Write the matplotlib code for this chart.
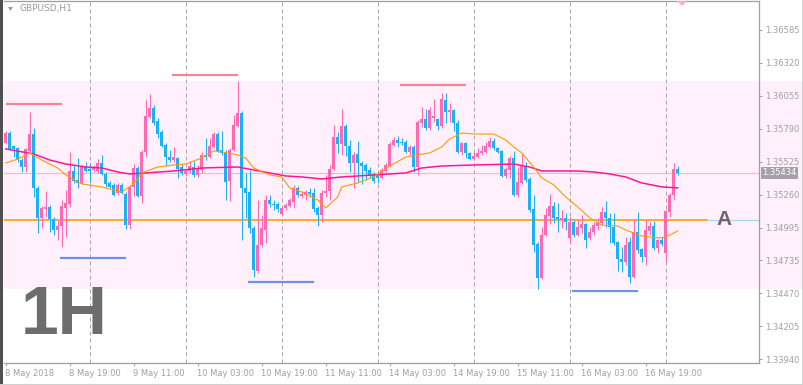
import numpy as np
import pandas as pd
import matplotlib
matplotlib.use("Agg")
import matplotlib.pyplot as plt
import matplotlib.transforms as mtrans
from matplotlib.patches import Rectangle, Polygon
from matplotlib.lines import Line2D

### data (GBPUSD H1, 8 May 03:00 -> 17 May 03:00)
opens = [1.35675, 1.35755, 1.35651, 1.35635, 1.35538, 1.35482, 1.35611, 1.35747, 1.35314, 1.35073,
         1.35145, 1.35161, 1.35065, 1.34976, 1.35008, 1.35153, 1.35185, 1.35450, 1.35378, 1.35354,
         1.35482, 1.35466, 1.35458, 1.35450, 1.35514, 1.35426, 1.35354, 1.35338, 1.35273, 1.35338,
         1.35265, 1.35016, 1.35322, 1.35474, 1.35249, 1.35603, 1.35884, 1.35956, 1.35852, 1.35763,
         1.35659, 1.35562, 1.35538, 1.35554, 1.35482, 1.35426, 1.35450, 1.35482, 1.35418, 1.35458,
         1.35579, 1.35562, 1.35643, 1.35747, 1.35619, 1.35603, 1.35370, 1.35619, 1.35811, 1.35916,
         1.35314, 1.35281, 1.34992, 1.34647, 1.34856, 1.34976, 1.35217, 1.35185, 1.35185, 1.35105,
         1.35153, 1.35169, 1.35201, 1.35314, 1.35249, 1.35257, 1.35281, 1.35273, 1.35153, 1.35097,
         1.35273, 1.35289, 1.35466, 1.35723, 1.35667, 1.35811, 1.35651, 1.35514, 1.35587, 1.35514,
         1.35498, 1.35458, 1.35426, 1.35418, 1.35394, 1.35450, 1.35490, 1.35659, 1.35699, 1.35683,
         1.35683, 1.35603, 1.35643, 1.35482, 1.35836, 1.35868, 1.35795, 1.35876, 1.35868, 1.35811,
         1.36020, 1.35924, 1.35940, 1.35836, 1.35603, 1.35675, 1.35595, 1.35546, 1.35562, 1.35595,
         1.35603, 1.35643, 1.35691, 1.35635, 1.35611, 1.35410, 1.35458, 1.35554, 1.35257, 1.35354,
         1.35490, 1.35386, 1.35145, 1.34864, 1.34591, 1.34936, 1.35089, 1.35169, 1.35081, 1.35057,
         1.35073, 1.34912, 1.35041, 1.34936, 1.34992, 1.35025, 1.34912, 1.34960, 1.35008, 1.35033,
         1.35121, 1.35073, 1.35000, 1.34880, 1.34743, 1.34719, 1.34880, 1.34599, 1.34960, 1.34824,
         1.34760, 1.34968, 1.35008, 1.34832, 1.34896, 1.34792, 1.35121, 1.35257, 1.35466]
highs = [1.35771, 1.35771, 1.35659, 1.35643, 1.35554, 1.35635, 1.35924, 1.35795, 1.35330, 1.35169,
         1.35289, 1.35177, 1.35081, 1.35057, 1.35217, 1.35298, 1.35603, 1.35498, 1.35554, 1.35498,
         1.35522, 1.35514, 1.35498, 1.35546, 1.35579, 1.35442, 1.35370, 1.35354, 1.35354, 1.35354,
         1.35281, 1.35338, 1.35506, 1.35490, 1.35619, 1.36020, 1.36068, 1.35980, 1.35876, 1.35779,
         1.35675, 1.35619, 1.35643, 1.35562, 1.35506, 1.35466, 1.35530, 1.35530, 1.35498, 1.35603,
         1.35715, 1.35715, 1.35763, 1.35763, 1.35771, 1.35619, 1.35635, 1.35900, 1.36173, 1.35932,
         1.35434, 1.35458, 1.35008, 1.35217, 1.35097, 1.35257, 1.35257, 1.35217, 1.35201, 1.35161,
         1.35193, 1.35233, 1.35338, 1.35330, 1.35289, 1.35298, 1.35314, 1.35314, 1.35169, 1.35298,
         1.35418, 1.35498, 1.35819, 1.35763, 1.35948, 1.35828, 1.35699, 1.35603, 1.35691, 1.35530,
         1.35514, 1.35482, 1.35442, 1.35442, 1.35474, 1.35514, 1.35683, 1.35723, 1.35731, 1.35715,
         1.35699, 1.35659, 1.35659, 1.35860, 1.35964, 1.35948, 1.35964, 1.36028, 1.35876, 1.36076,
         1.36076, 1.35996, 1.35948, 1.35860, 1.35683, 1.35683, 1.35603, 1.35603, 1.35635, 1.35659,
         1.35683, 1.35723, 1.35715, 1.35643, 1.35619, 1.35482, 1.35571, 1.35611, 1.35482, 1.35587,
         1.35522, 1.35402, 1.35257, 1.34880, 1.35000, 1.35153, 1.35265, 1.35201, 1.35193, 1.35137,
         1.35113, 1.35081, 1.35057, 1.35057, 1.35097, 1.35033, 1.35000, 1.35041, 1.35073, 1.35161,
         1.35209, 1.35113, 1.35113, 1.34888, 1.34840, 1.34920, 1.34920, 1.35065, 1.35121, 1.34832,
         1.35057, 1.35041, 1.35049, 1.34904, 1.34920, 1.35137, 1.35273, 1.35514, 1.35490]
lows = [1.35667, 1.35619, 1.35562, 1.35522, 1.35442, 1.35442, 1.35603, 1.35241, 1.34952, 1.34992,
        1.35081, 1.34960, 1.34936, 1.34896, 1.34840, 1.34920, 1.35161, 1.35354, 1.35314, 1.35346,
        1.35442, 1.35354, 1.35442, 1.35434, 1.35418, 1.35322, 1.35314, 1.35249, 1.35257, 1.35265,
        1.34984, 1.34984, 1.35249, 1.35241, 1.35193, 1.35562, 1.35876, 1.35819, 1.35715, 1.35643,
        1.35490, 1.35522, 1.35522, 1.35394, 1.35418, 1.35410, 1.35434, 1.35402, 1.35402, 1.35434,
        1.35538, 1.35554, 1.35635, 1.35603, 1.35579, 1.35217, 1.35209, 1.35611, 1.35803, 1.34896,
        1.35073, 1.34952, 1.34599, 1.34631, 1.34840, 1.34872, 1.35161, 1.35137, 1.35121, 1.35097,
        1.35137, 1.35161, 1.35153, 1.35241, 1.35233, 1.35217, 1.35241, 1.35121, 1.35008, 1.35041,
        1.35241, 1.35217, 1.35458, 1.35595, 1.35579, 1.35571, 1.35442, 1.35314, 1.35362, 1.35346,
        1.35378, 1.35394, 1.35354, 1.35354, 1.35386, 1.35442, 1.35482, 1.35651, 1.35643, 1.35659,
        1.35595, 1.35579, 1.35442, 1.35418, 1.35803, 1.35779, 1.35779, 1.35844, 1.35779, 1.35795,
        1.35836, 1.35844, 1.35771, 1.35595, 1.35579, 1.35554, 1.35538, 1.35538, 1.35554, 1.35579,
        1.35595, 1.35635, 1.35619, 1.35595, 1.35402, 1.35394, 1.35394, 1.35249, 1.35241, 1.35346,
        1.35362, 1.35121, 1.34800, 1.34503, 1.34583, 1.34928, 1.35025, 1.35033, 1.34960, 1.34992,
        1.34976, 1.34872, 1.34920, 1.34928, 1.34952, 1.34832, 1.34896, 1.34936, 1.34976, 1.35016,
        1.35000, 1.34872, 1.34856, 1.34647, 1.34639, 1.34695, 1.34551, 1.34591, 1.34792, 1.34719,
        1.34695, 1.34936, 1.34816, 1.34792, 1.34848, 1.34719, 1.35081, 1.35217, 1.35418]
closes = [1.35755, 1.35627, 1.35627, 1.35538, 1.35482, 1.35627, 1.35747, 1.35314, 1.35073, 1.35153,
          1.35161, 1.35065, 1.34976, 1.35008, 1.35169, 1.35193, 1.35450, 1.35370, 1.35354, 1.35482,
          1.35450, 1.35450, 1.35474, 1.35514, 1.35426, 1.35346, 1.35322, 1.35257, 1.35338, 1.35273,
          1.35016, 1.35322, 1.35474, 1.35249, 1.35603, 1.35892, 1.35956, 1.35836, 1.35747, 1.35651,
          1.35562, 1.35538, 1.35562, 1.35466, 1.35434, 1.35450, 1.35490, 1.35418, 1.35466, 1.35579,
          1.35562, 1.35651, 1.35747, 1.35611, 1.35595, 1.35362, 1.35619, 1.35819, 1.35916, 1.35314,
          1.35273, 1.34992, 1.34655, 1.34856, 1.34992, 1.35217, 1.35185, 1.35177, 1.35145, 1.35153,
          1.35177, 1.35217, 1.35314, 1.35257, 1.35265, 1.35281, 1.35265, 1.35145, 1.35097, 1.35273,
          1.35289, 1.35466, 1.35723, 1.35667, 1.35811, 1.35651, 1.35514, 1.35579, 1.35514, 1.35490,
          1.35450, 1.35418, 1.35370, 1.35394, 1.35458, 1.35498, 1.35667, 1.35699, 1.35675, 1.35675,
          1.35603, 1.35643, 1.35482, 1.35844, 1.35868, 1.35795, 1.35940, 1.35892, 1.35811, 1.36028,
          1.35924, 1.35940, 1.35836, 1.35603, 1.35675, 1.35595, 1.35546, 1.35571, 1.35595, 1.35611,
          1.35651, 1.35691, 1.35635, 1.35603, 1.35410, 1.35466, 1.35554, 1.35257, 1.35362, 1.35490,
          1.35378, 1.35137, 1.34856, 1.34591, 1.34936, 1.35097, 1.35169, 1.35073, 1.35065, 1.35073,
          1.35041, 1.35041, 1.34936, 1.35000, 1.35025, 1.34896, 1.34960, 1.35016, 1.35033, 1.35121,
          1.35073, 1.35000, 1.34872, 1.34743, 1.34719, 1.34856, 1.34599, 1.34960, 1.34816, 1.34760,
          1.34976, 1.35008, 1.34832, 1.34896, 1.34864, 1.35129, 1.35257, 1.35466, 1.35434]

### moving averages (bar index, price)
ma_slow_bars = [0, 7, 11, 15, 20, 24, 28, 31, 35, 42, 49, 58, 62, 66, 70, 74, 79, 84, 92, 100,
                104, 109, 117, 127, 131, 134, 143, 147, 151, 155, 159, 164, 168]
ma_slow = [1.35627, 1.35587, 1.35538, 1.35506, 1.35482, 1.35474, 1.35442, 1.35426, 1.35434, 1.35450,
           1.35474, 1.35482, 1.35458, 1.35434, 1.35410, 1.35402, 1.35386, 1.35402, 1.35418, 1.35434,
           1.35474, 1.35490, 1.35498, 1.35506, 1.35482, 1.35450, 1.35450, 1.35442, 1.35426, 1.35402,
           1.35354, 1.35322, 1.35314]
ma_fast_bars = [0, 3, 6, 9, 13, 15, 19, 24, 26, 29, 32, 34, 38, 42, 45, 49, 52, 54, 58, 60,
                62, 66, 69, 71, 74, 78, 80, 83, 84, 88, 92, 96, 100, 103, 106, 109, 111, 114, 117, 122,
                125, 127, 129, 132, 134, 137, 140, 143, 146, 149, 153, 155, 159, 163, 165, 168]
ma_fast = [1.35514, 1.35546, 1.35595, 1.35538, 1.35474, 1.35418, 1.35346, 1.35322, 1.35306, 1.35281,
           1.35346, 1.35434, 1.35482, 1.35498, 1.35506, 1.35554, 1.35611, 1.35603, 1.35579, 1.35554,
           1.35474, 1.35418, 1.35402, 1.35314, 1.35281, 1.35217, 1.35153, 1.35241, 1.35322, 1.35354,
           1.35402, 1.35490, 1.35562, 1.35579, 1.35595, 1.35643, 1.35707, 1.35755, 1.35747, 1.35747,
           1.35699, 1.35643, 1.35595, 1.35482, 1.35394, 1.35338, 1.35241, 1.35161, 1.35073, 1.35016,
           1.35008, 1.34976, 1.34928, 1.34912, 1.34920, 1.34968]

### levels
zone_top, zone_bottom = 1.36173, 1.34503
level_a = 1.35057
high_segments = [(0, 14, 1.35984), (41.5, 58, 1.36221), (98.6, 115, 1.36137)]
low_segments = [(13.6, 30, 1.34751), (60.6, 77, 1.34559), (141.6, 158, 1.34490)]
price_ticks = [1.33940, 1.34205, 1.34470, 1.34735, 1.34995, 1.35260, 1.35525, 1.35790, 1.36055,
               1.36320, 1.36585]

UP = "#ff69b4"
DOWN = "#19b2f5"
GRAY = "#a0a0a0"

times = pd.date_range("2018-05-08 03:00", "2018-05-17 03:00", freq="h")
times = times[times.dayofweek < 5]
n = len(closes)
x = np.arange(n)
o = np.array(opens)
c = np.array(closes)

### figure
W, H = 804, 385
fig = plt.figure(figsize=(W / 100, H / 100), dpi=100)
ax = fig.add_axes([4 / W, 1 - 363 / H, 755 / W, 362 / H])
px = 0.72  # one pixel in points

ax.set_xlim((4 - 5.7) / 4, (759 - 5.7) / 4)
ax.set_ylim(1.33908, 1.36815)

### pink zone, runs under the price scale too
tr = mtrans.blended_transform_factory(fig.transFigure, ax.transData)
ax.add_patch(Rectangle((4 / W, zone_bottom), 1 - 4 / W, zone_top - zone_bottom, transform=tr,
                       facecolor="#fff0fb", edgecolor="none", zorder=0, clip_on=False))

### day separators
for i, t in enumerate(times):
    if t.hour == 0:
        ax.axvline(i, color="#a8a4ac", lw=px, dashes=(4, 3), zorder=1)

### price line and level A
ax.axhline(c[-1], color="#ffb6c8", lw=px * 1.2, zorder=1)
ax.axhline(level_a, xmin=0, xmax=(707 - 4) / 755, color="#ff9900", lw=px * 1.6, zorder=3)
ax.axhline(level_a, xmin=(707 - 4) / 755, xmax=1, color="#a8d8ea", lw=px * 1.2, zorder=3)
ax.text((724 - 4) / 755, level_a, "A", transform=ax.get_yaxis_transform(), ha="center",
        va="center", fontsize=15, fontweight="bold", color="#6e6472", family="Liberation Sans",
        zorder=4)

### highs / lows segments
for s, e, p in high_segments:
    ax.hlines(p, s, e, color="#f58499", lw=px * 2.2, zorder=3)
for s, e, p in low_segments:
    ax.hlines(p, s, e, color="#6a92e8", lw=px * 2.2, zorder=3)

### candles
cols = np.where(c >= o, UP, DOWN)
ax.vlines(x, lows, highs, colors=cols, lw=px, zorder=4)
body_h = np.maximum(np.abs(c - o), 0.00005)
ax.bar(x, body_h, bottom=np.minimum(o, c), width=0.75, color=cols, linewidth=0, zorder=5)

### moving averages
ax.plot(ma_slow_bars, ma_slow, color="#ff1493", lw=px * 1.5, zorder=6)
ax.plot(ma_fast_bars, ma_fast, color="#ff9900", lw=px * 1.1, zorder=6)

### axes styling
ax.set_facecolor("white")
ax.spines["left"].set_visible(False)
for side in ["right", "bottom", "top"]:
    ax.spines[side].set_color(GRAY)
    ax.spines[side].set_linewidth(px * 1.3)

ax.yaxis.tick_right()
ax.set_yticks(price_ticks)
ax.set_yticklabels([f"{v:.5f}" for v in price_ticks])
ax.tick_params(axis="y", length=3 * px, width=px, color=GRAY, labelcolor=GRAY, labelsize=6, pad=2)

tick_idx = list(range(0, n, 16))
ax.set_xticks(tick_idx)
labels = []
for i in tick_idx:
    t = times[i]
    if i == 0:
        labels.append(f"{t.day} {t:%b %Y}")
    else:
        labels.append(f"{t.day} {t:%b %H:%M}")
ax.set_xticklabels(labels)
ax.tick_params(axis="x", length=3 * px, width=px, color=GRAY, labelcolor=GRAY, labelsize=6, pad=2)
shift = mtrans.ScaledTranslation(-1 / 100, 0, fig.dpi_scale_trans)
for lbl in ax.get_xticklabels():
    lbl.set_ha("left")
    lbl.set_transform(lbl.get_transform() + shift)

### current price tag
ax.text(1.004, c[-1], f"{c[-1]:.5f}", transform=ax.get_yaxis_transform(), ha="left", va="center",
        fontsize=6, color="white", zorder=7, clip_on=False,
        bbox=dict(boxstyle="square,pad=0.15", facecolor="#a7a0ab", edgecolor="none"))

### labels
fig.text(20 / W, 1 - 9 / H, "GBPUSD,H1", fontsize=6.5, color="#9a9a9a", va="center", ha="left")
fig.add_artist(Polygon([[8 / W, 1 - 7 / H], [13 / W, 1 - 7 / H], [10.5 / W, 1 - 11 / H]],
                       closed=True, transform=fig.transFigure, facecolor="#9a9a9a", edgecolor="none"))
fig.text(21 / W, 1 - 316 / H, "1H", fontsize=49, color="#6d6d6d", va="center", ha="left",
         family="Liberation Sans", fontweight="semibold")
fig.add_artist(Polygon([[677 / W, 1 - 1 / H], [687 / W, 1 - 1 / H], [682 / W, 1 - 6 / H]],
                       closed=True, transform=fig.transFigure, facecolor="#ffb0c0", edgecolor="none"))

### window border
fig.add_artist(Line2D([1.5 / W, 1.5 / W], [0, 1], transform=fig.transFigure, color="#505050", lw=2.2))
fig.add_artist(Line2D([802.5 / W, 802.5 / W], [0, 1], transform=fig.transFigure, color="#d0d0d0", lw=px))
fig.add_artist(Line2D([0, 1], [1.5 / H, 1.5 / H], transform=fig.transFigure, color="#d0d0d0", lw=px))

fig.savefig("out.png", dpi=100, facecolor="white")
plt.close(fig)
